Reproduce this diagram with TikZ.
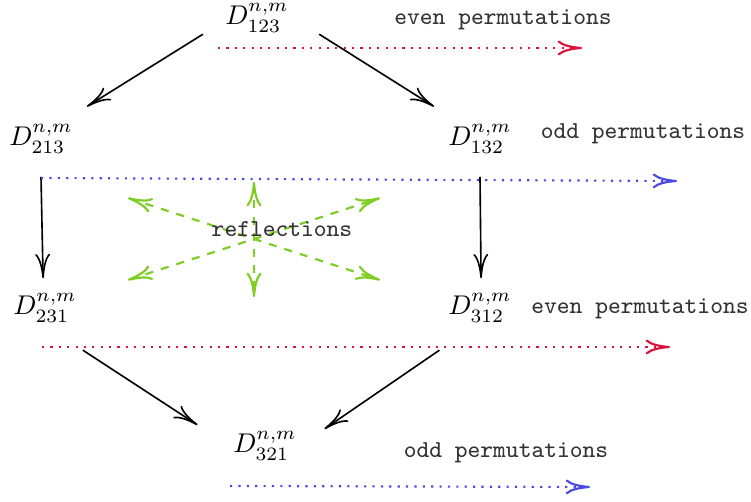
\documentclass[tikz,border=0pt]{standalone}
\usepackage{tikz}
\usetikzlibrary{arrows.meta}
\definecolor{evenred}{RGB}{220,20,60}
\definecolor{oddblue}{RGB}{75,75,225}
\definecolor{reflgreen}{RGB}{125,205,35}
\begin{document}
\begin{tikzpicture}[x=1.3cm, y=1.3cm, >={To[length=9pt, width=5.5pt]},
    evenline/.style={->, evenred, line width=0.8pt, dash pattern=on 0.8pt off 2.3pt},
    oddline/.style={->, oddblue, line width=0.8pt, dash pattern=on 0.8pt off 2.3pt},
    reflline/.style={<->, reflgreen, line width=0.8pt, dashed},
    permtext/.style={font=\ttfamily\small, text=black!80},
    perm/.style={->, semithick}]
    \useasboundingbox (0, 0) rectangle (7.51, 5.02);
    % Place the six D's
    \node (D123) at (2.57, 4.84) {$D^{n,m}_{123}$};
    \node (D213) at (0.41, 3.63) {$D^{n,m}_{213}$};
    \node (D132) at (4.80, 3.63) {$D^{n,m}_{132}$};
    \node (D231) at (0.45, 1.94) {$D^{n,m}_{231}$};
    \node (D312) at (4.80, 1.94) {$D^{n,m}_{312}$};
    \node (D321) at (2.65, 0.56) {$D^{n,m}_{321}$};

    % Arrows between them
    \draw [perm] ([shift={(-20pt,-6pt)}]D123.center) -- ([shift={(17pt,12pt)}]D213.center);
    \draw [perm] ([shift={(23pt,-6pt)}]D123.center) -- ([shift={(-17pt,12pt)}]D132.center);
    \draw [perm] ([shift={(0pt,-14pt)}]D213.center) -- ([shift={(-0.7pt,11pt)}]D231.center);
    \draw [perm] ([shift={(0pt,-14pt)}]D132.center) -- ([shift={(0.4pt,11pt)}]D312.center);
    \draw [perm] ([shift={(14pt,-15.6pt)}]D231.center) -- ([shift={(-25pt,7.8pt)}]D321.center);
    \draw [perm] ([shift={(-15pt,-15.6pt)}]D312.center) -- ([shift={(22pt,6.3pt)}]D321.center);

    % Permutation rows
    \coordinate (e1a) at (2.18, 4.54);
    \coordinate (e1b) at (5.82, 4.54);
    \coordinate (o1a) at (0.41, 3.24);
    \coordinate (o1b) at (6.77, 3.21);
    \coordinate (e2a) at (0.42, 1.55);
    \coordinate (e2b) at (6.70, 1.55);
    \coordinate (o2a) at (2.30, 0.16);
    \coordinate (o2b) at (5.90, 0.15);
    \draw [evenline] (e1a) -- (e1b);
    \draw [oddline] (o1a) -- (o1b);
    \draw [evenline] (e2a) -- (e2b);
    \draw [oddline] (o2a) -- (o2b);
    \node [permtext] (le1) at (5.03, 4.82) {even permutations};
    \node [permtext] (lo1) at (6.43, 3.68) {odd permutations};
    \node [permtext] (le2) at (6.40, 1.93) {even permutations};
    \node [permtext] (lo2) at (5.06, 0.49) {odd permutations};

    % Reflections
    \coordinate (rnw) at (1.28, 3.04);
    \coordinate (rse) at (3.80, 2.22);
    \coordinate (rsw) at (1.28, 2.22);
    \coordinate (rne) at (3.80, 3.04);
    \coordinate (rn) at (2.54, 3.20);
    \coordinate (rs) at (2.54, 2.05);
    \draw [reflline] (rnw) -- (rse);
    \draw [reflline] (rsw) -- (rne);
    \draw [reflline] (rn) -- (rs);
    \node [permtext] (lrefl) at (2.82, 2.73) {reflections};
\end{tikzpicture}
\end{document}
